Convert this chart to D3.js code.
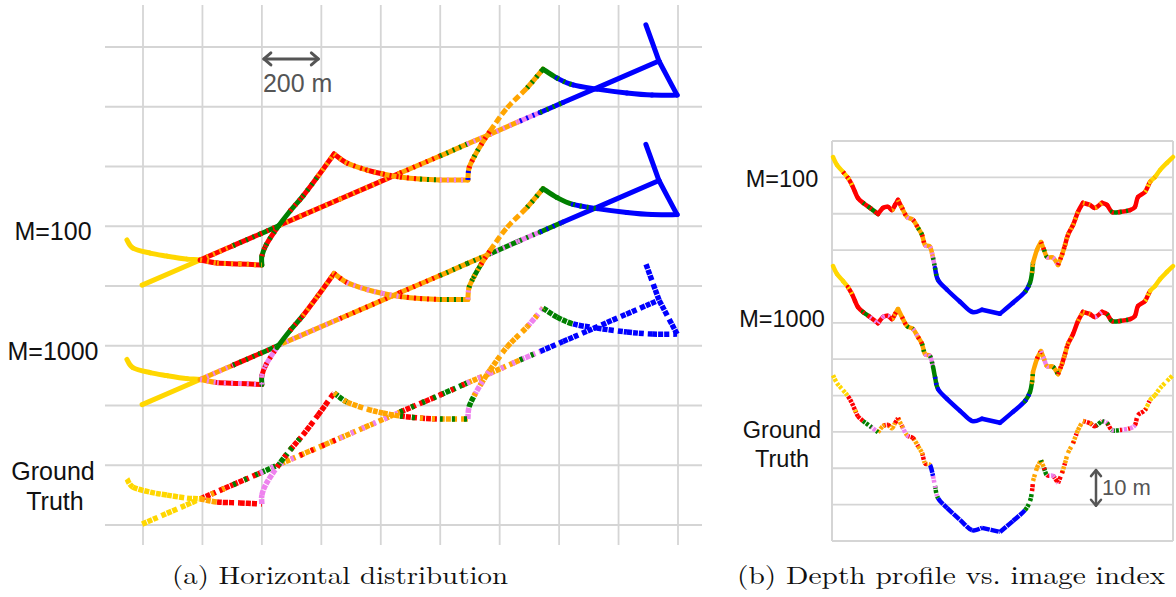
<!DOCTYPE html>
<html><head><meta charset="utf-8">
<script src="https://cdn.jsdelivr.net/npm/d3@7"></script>
<style>html,body{margin:0;background:#fff;}svg{display:block;}</style>
</head><body>
<svg id="chart" width="1176" height="597"></svg>
<script>
// ---------- class colours ----------
const classKeys = ["Y","R","G","O","P","B"];
const classColors = ["#FFD700","#FF0000","#008000","#FFA500","#EE82EE","#0000FF"];

// ---------- panel (a): horizontal track (metres east / north, ground-truth frame) ----------
const gridEastM = [0,200,400,600,800,1000,1200,1400,1600,1800];
const gridNorthM = [0,200,400,600,800,1000,1200,1400,1600];
const loopEast  = [-54,-34,24,81,148,192,249,326,400,400,414,451,495,538,589,643,686,754,807,865,932,999,1093,1097,1114,1137,1168,1225,1292,1346,1393,1447,1527,1628,1713,1797,1736,1692];
const loopNorth = [154,127,110,100,90,87,77,74,70,100,137,194,251,301,368,442,412,388,375,365,358,355,355,395,432,472,519,596,663,726,696,673,659,646,639,639,753,874];
const loopCorners = [8,15,22,29,35,36];
const lineEast  = [-3,192,303,394,461,528,663,865,999,1090,1168,1268,1336,1413,1736];
const lineNorth = [3,87,135,174,204,233,291,378,435,475,508,552,581,614,753];
// per-segment class (first letter = dominant class, second = mixed-in class; lower case = sparse)
const loopClassM100  = "Y Y Y Y Y RO RO RO G GR RG G GR RG RO RO OR RO OR OR OG OP OB OR OG OR o o OG G BG B B B B B B".split(" ");
const loopClassM1000 = "Y Y Y Y Y OP RP RP GP RP PR G GR RO RO OR OP OP OP OR OR OG OP OG GO OR o o OG G G BG B B B B B".split(" ");
const loopClassGT    = "Y Y Y Y Y O R R P P P GR RG R R GO O O O RG RO OG P G PO OP O O PO G G B B B B B B".split(" ");
const lineClassM100  = "Y RO RG GR RO RO RO OR OG OP OP PB BG B".split(" ");
const lineClassM1000 = "Y OP RG GR OP OP OR OR OG OG GP PG GB B".split(" ");
const lineClassGT    = "Y RO RG GP OP OR OP RG GR OP OP PG B B".split(" ");
const rowLabels = ["M=100","M=1000","Ground Truth"];
const rowOffsetNorthM = [800,400,0];

// ---------- panel (b): depth profile vs image index ----------
const gridDepthM = [0,10,20,30,40,50,60,70,80,90,100,110];
const profIndex = [0,20,50,75,95,110,125,150,185,225,250,275,295,310,325,345,370,400,425,445,460,485,500,510,525,570,635,695,745,835,900,960,985,995,1000,1020,1040,1055,1070,1100,1125,1145,1160,1175,1200,1225,1250,1285,1310,1345,1370,1395,1435,1485,1510,1525,1560,1585,1610,1635,1670,1700];
const profDepth = [4.4,6.6,8.5,10.2,12.1,14.0,15.7,17.0,18.4,20.1,18.4,18.1,19.0,17.6,16.2,18.4,20.9,21.7,23.9,25.8,28.6,29.1,32.1,34.9,38.2,40.9,44.2,47.0,46.4,47.5,44.5,41.5,39.0,36.3,33.5,29.9,27.8,29.9,31.9,32.1,34.1,31.3,28.6,25.8,23.1,19.5,17.0,17.6,18.4,17.0,17.6,19.5,19.5,19.0,18.1,15.4,14.0,11.3,9.9,8.0,6.0,4.4];
const profCorners = [9,14,28,29,34,36,40,46,49];
const profClassM100  = "Y Y YR RY R R R RG GR R R R RO R RO OR OP OR OG OR OP OP PG BG B B B B B B B BG G GO O O OR OG OP OP OR OR RO RO RO R RO R RO R R GR RG R R R RY YO Y Y Y".split(" ");
const profClassM1000 = "Y Y Y RY R R R GR RP RP RP RP RO OR O OR OG OP OR OG OP PG G GB B B B B B B B GB G OG O OR OP PO OP OG OR RO OR RO R RO RO R RP R RG GR RG R R R RY Y Y Y Y".split(" ");
const profClassGT    = "Y Y Y R R RY R G PG O RO OR O R OR PO RP OR O RO OR B P GP B B B B B B B G G R O O OG GR PR RP R OR O O OR O RO RO GR PG RG GP PR P R R YR Y Y Y Y".split(" ");
const profOffsetM = [0,30,60];

// ---------- setup ----------
const colorOf = k => classColors[classKeys.indexOf(k.toUpperCase())];
const svg = d3.select("#chart");
const gridColor = "#d5d5d5";
const sans = "'Liberation Sans', Arial, sans-serif";

const xA = d3.scaleLinear().domain([0,1800]).range([143,678]);
const yA = d3.scaleLinear().domain([0,1600]).range([525,47]);
const xB = d3.scaleLinear().domain([0,1700]).range([833,1173]);
const yB = d3.scaleLinear().domain([0,110]).range([141,541]);

// grid (a)
const gGridA = svg.append("g");
gGridA.selectAll("line.v").data(gridEastM).join("line")
  .attr("x1", d=>xA(d)).attr("x2", d=>xA(d)).attr("y1", 5).attr("y2", 545)
  .attr("stroke", gridColor).attr("stroke-width", 1.8);
gGridA.selectAll("line.h").data(gridNorthM).join("line")
  .attr("x1", 105).attr("x2", 702).attr("y1", d=>yA(d)).attr("y2", d=>yA(d))
  .attr("stroke", gridColor).attr("stroke-width", 1.8);

// grid (b)
const gGridB = svg.append("g");
gGridB.selectAll("line.h").data(gridDepthM).join("line")
  .attr("x1", xB(0)-1).attr("x2", xB(1700)).attr("y1", d=>yB(d)).attr("y2", d=>yB(d))
  .attr("stroke", gridColor).attr("stroke-width", 1.8);
gGridB.selectAll("line.v").data([0,1700]).join("line")
  .attr("x1", d=>xB(d)+(d?0:-1)).attr("x2", d=>xB(d)+(d?0:-1)).attr("y1", yB(0)).attr("y2", yB(110))
  .attr("stroke", gridColor).attr("stroke-width", 2);

// smooth (Catmull-Rom) segment paths, sharp at corner vertices
function segmentPaths(pts, corners) {
  const cs = new Set(corners);
  return pts.slice(0,-1).map((p1,i)=>{
    const p2 = pts[i+1];
    const p0 = (i===0 || cs.has(i)) ? p1 : pts[i-1];
    const p3 = (i+2>=pts.length || cs.has(i+1)) ? p2 : pts[i+2];
    const path = d3.path();
    path.moveTo(p1[0], p1[1]);
    path.bezierCurveTo(p1[0]+(p2[0]-p0[0])/6, p1[1]+(p2[1]-p0[1])/6,
                       p2[0]-(p3[0]-p1[0])/6, p2[1]-(p3[1]-p1[1])/6, p2[0], p2[1]);
    return path.toString();
  });
}

function drawTrack(g, xs, ys, classes, corners, sx, sy, style) {
  const pts = xs.map((x,i)=>[sx(x), sy(ys[i])]);
  const paths = segmentPaths(pts, corners);
  const segs = classes.map((c,i)=>({d:paths[i], main:c[0], spec:c[1]}));
  const isSparse = d => d.main !== d.main.toUpperCase();
  const dashOf = d => {
    if (style.solidFor && style.solidFor.includes(d.main)) return style.solidDash || null;
    return style.dash || (isSparse(d) ? "7,3" : null);
  };
  g.append("g").selectAll("path").data(segs).join("path")
    .attr("d", d=>d.d).attr("fill","none")
    .attr("stroke", d=>colorOf(d.main)).attr("stroke-width", style.w)
    .attr("stroke-linecap", d => dashOf(d) ? "butt" : "round")
    .attr("stroke-dasharray", dashOf);
  g.append("g").selectAll("path").data(segs.filter(s=>s.spec)).join("path")
    .attr("d", d=>d.d).attr("fill","none")
    .attr("stroke", d=>colorOf(d.spec)).attr("stroke-width", style.w)
    .attr("stroke-linecap","butt")
    .attr("stroke-dasharray", style.specDash);
}

// panel (a) tracks
const loopSets = [loopClassM100, loopClassM1000, loopClassGT];
const lineSets = [lineClassM100, lineClassM1000, lineClassGT];
rowLabels.forEach((lab, r) => {
  const g = svg.append("g");
  const off = rowOffsetNorthM[r];
  const isGT = r === 2;
  const style = isGT ? {w:5.5, dash:"5,1,5,1,5,4", specDash:"3,9"} : {w:5, dash:null, specDash:"2,5"};
  const syA = v => yA(v + off);
  drawTrack(g, lineEast, lineNorth, lineSets[r], [], xA, syA, style);
  drawTrack(g, loopEast, loopNorth, loopSets[r], loopCorners, xA, syA, style);
});

// panel (b) profiles
const profSets = [profClassM100, profClassM1000, profClassGT];
profSets.forEach((cls, r) => {
  const g = svg.append("g");
  const isGT = r === 2;
  const style = isGT ? {w:4.5, dash:"3,1,3,3.5", specDash:"2,6", solidFor:["B"], solidDash:"8,0.8"} : {w:4.5, dash:null, specDash:"2,4"};
  const syB = v => yB(v + profOffsetM[r]);
  drawTrack(g, profIndex, profDepth, cls, profCorners, xB, syB, style);
});

// row labels (a)
const labA = svg.append("g").attr("font-family", sans).attr("font-size", 25).attr("fill", "#111").attr("text-anchor","middle");
labA.append("text").attr("x", 53).attr("y", 240).text("M=100");
labA.append("text").attr("x", 53).attr("y", 360).text("M=1000");
labA.append("text").attr("x", 53).attr("y", 480).text("Ground");
labA.append("text").attr("x", 55).attr("y", 510).text("Truth");

// row labels (b)
const labB = svg.append("g").attr("font-family", sans).attr("font-size", 23.5).attr("fill", "#111").attr("text-anchor","middle");
labB.append("text").attr("x", 782).attr("y", 187).text("M=100");
labB.append("text").attr("x", 782).attr("y", 327).text("M=1000");
labB.append("text").attr("x", 782).attr("y", 438).text("Ground");
labB.append("text").attr("x", 782).attr("y", 467).text("Truth");

// scale bars
function arrowH(x1, x2, y) {
  const g = svg.append("g").attr("stroke","#555").attr("stroke-width",3).attr("fill","none").attr("stroke-linecap","round").attr("stroke-linejoin","round");
  g.append("line").attr("x1",x1).attr("x2",x2).attr("y1",y).attr("y2",y);
  g.append("path").attr("d",`M${x1+7},${y-6}L${x1},${y}L${x1+7},${y+6}`);
  g.append("path").attr("d",`M${x2-7},${y-6}L${x2},${y}L${x2-7},${y+6}`);
}
function arrowV(x, y1, y2) {
  const g = svg.append("g").attr("stroke","#555").attr("stroke-width",2.5).attr("fill","none").attr("stroke-linecap","round").attr("stroke-linejoin","round");
  g.append("line").attr("x1",x).attr("x2",x).attr("y1",y1).attr("y2",y2);
  g.append("path").attr("d",`M${x-5},${y1+6}L${x},${y1}L${x+5},${y1+6}`);
  g.append("path").attr("d",`M${x-5},${y2-6}L${x},${y2}L${x+5},${y2-6}`);
}
arrowH(xA(400)+2, xA(600)-3, yA(1560));
svg.append("text").attr("x", xA(400)+1).attr("y", 92).attr("font-family", sans).attr("font-size", 25).attr("fill","#555").text("200 m");
arrowV(xB(1315), yB(90.5), yB(100.3));
svg.append("text").attr("x", xB(1315)+6).attr("y", 495).attr("font-family", sans).attr("font-size", 22).attr("fill","#555").text("10 m");

// captions
const serif = "'Latin Modern Roman','CMU Serif','Liberation Serif','DejaVu Serif',serif";
svg.append("text").attr("x",172).attr("y",584).attr("font-family",serif).attr("font-size",25)
  .attr("textLength",336).attr("lengthAdjust","spacingAndGlyphs").attr("fill","#111").text("(a) Horizontal distribution");
svg.append("text").attr("x",737).attr("y",584).attr("font-family",serif).attr("font-size",25)
  .attr("textLength",428).attr("lengthAdjust","spacingAndGlyphs").attr("fill","#111").text("(b) Depth profile vs. image index");
</script>
</body></html>
